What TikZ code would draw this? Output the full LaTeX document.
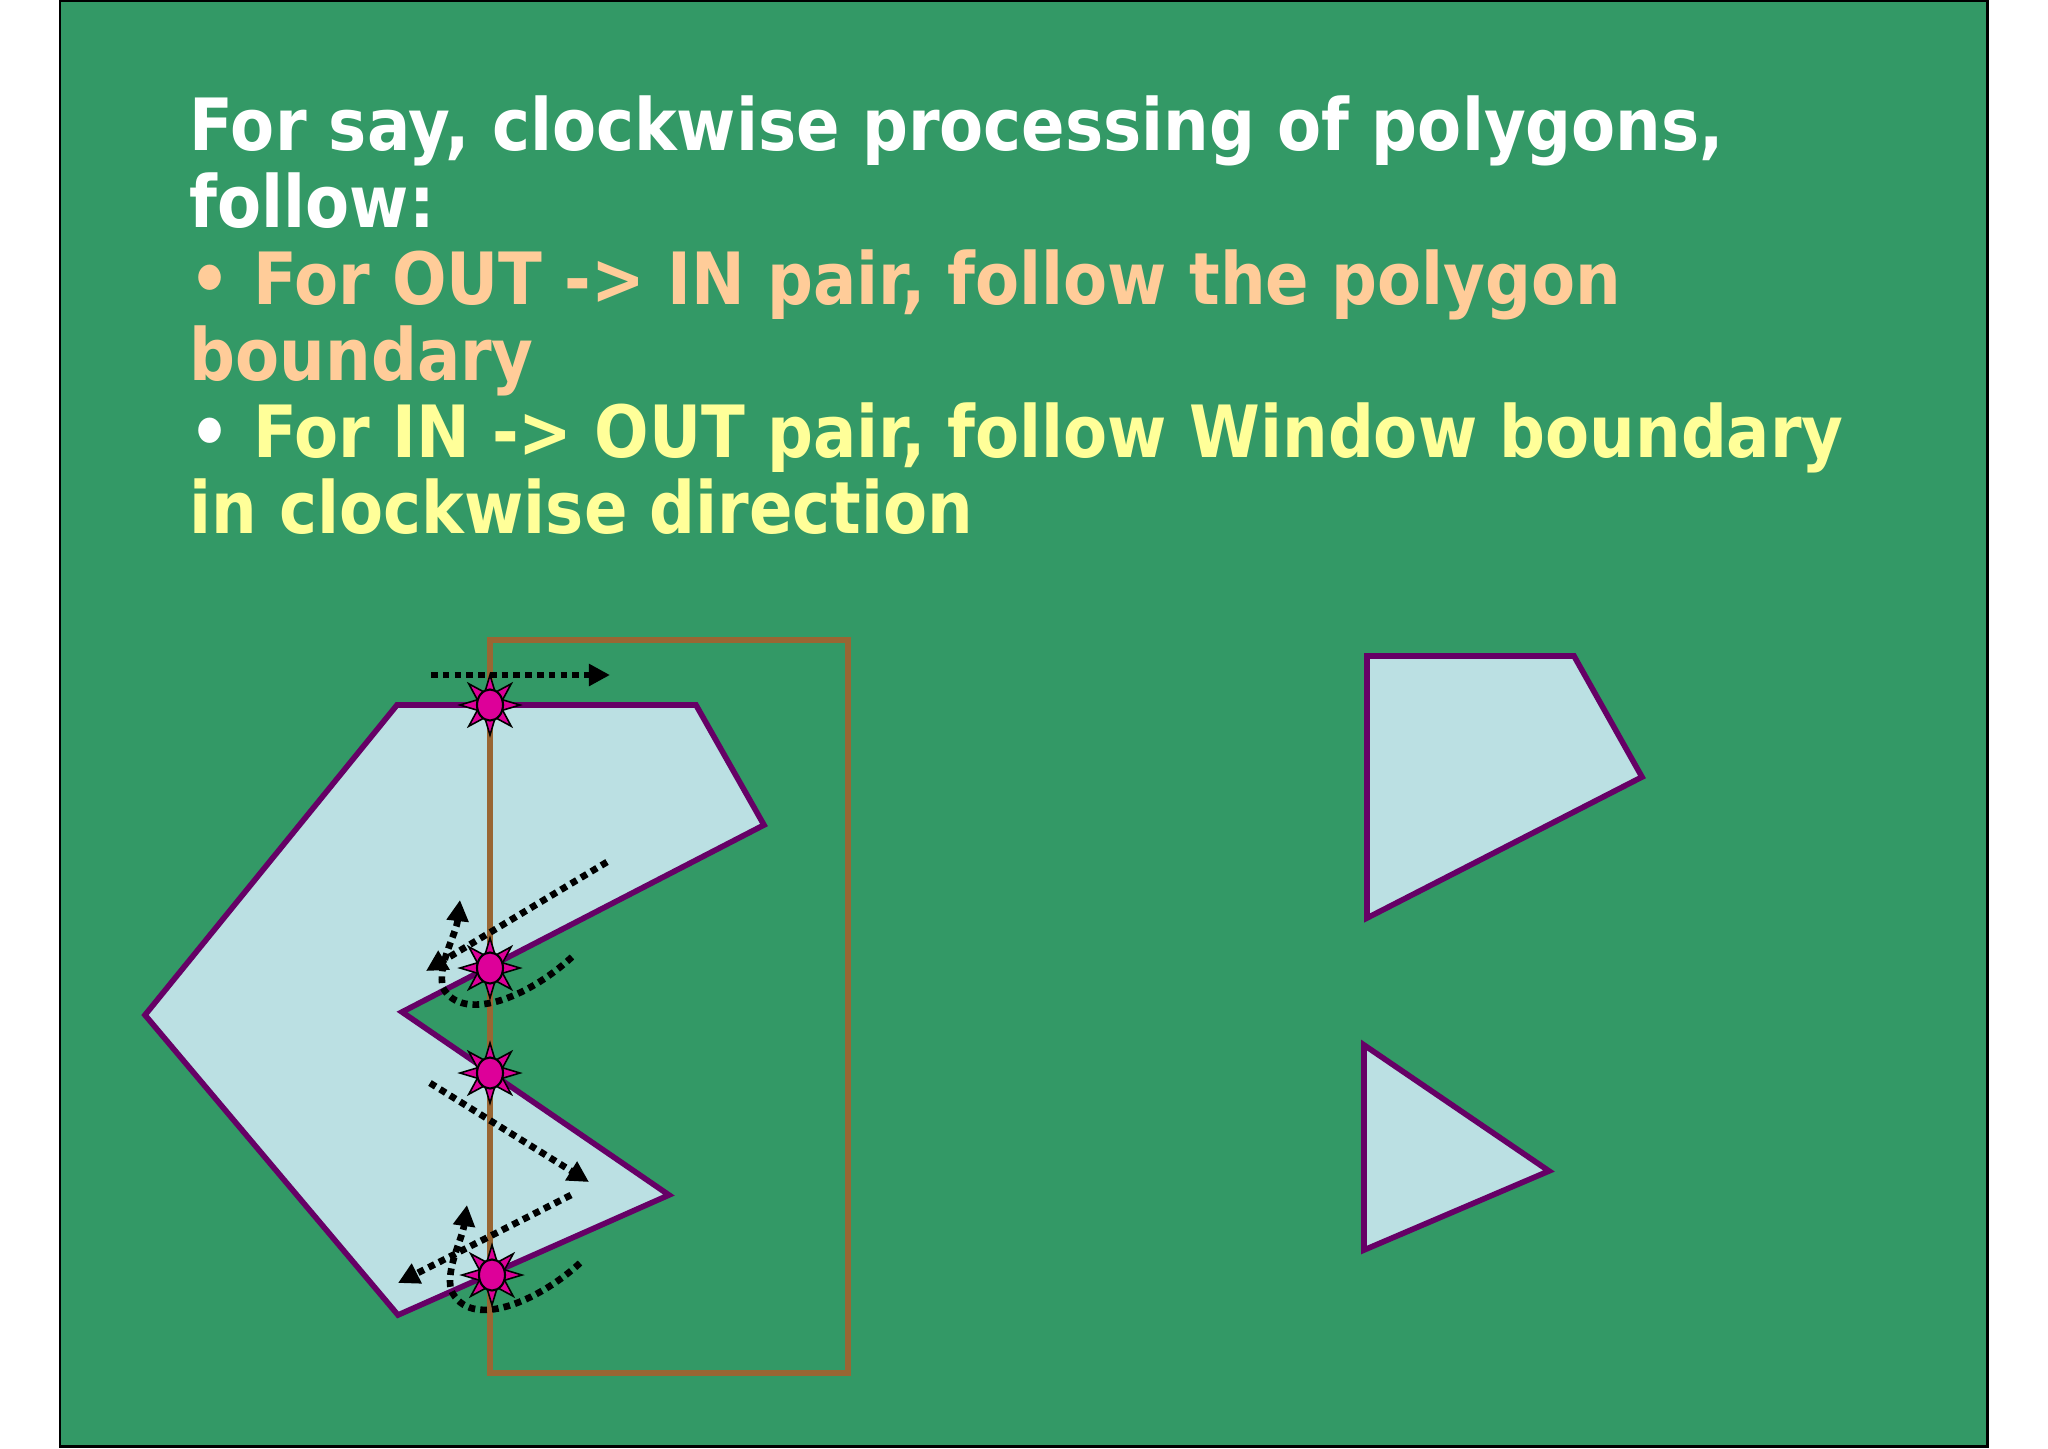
\documentclass[tikz,border=0pt]{standalone}
\usepackage{fontspec}
\setmainfont{DejaVu Sans}[FakeStretch=0.89]
\usetikzlibrary{shapes.geometric,arrows.meta,positioning}

\definecolor{board}{HTML}{339966}
\definecolor{polyfill}{HTML}{BBE0E3}
\definecolor{polyline}{HTML}{660066}
\definecolor{winline}{HTML}{996633}
\definecolor{hitcol}{HTML}{DD0099}
\definecolor{peach}{HTML}{FFCC99}
\definecolor{lemon}{HTML}{FFFF99}

\tikzset{
  poly/.style={draw=polyline, fill=polyfill, line width=1.6pt},
  window/.style={draw=winline, line width=1.9pt},
  walk/.style={line width=1.9pt, dash pattern=on 1.9pt off 1.45pt,
    -{Triangle[length=6pt,width=6pt]}},
  spike/.style={star, star points=8, star point ratio=2.2, minimum size=0.6cm,
    inner sep=0pt, fill=hitcol, draw=black, line width=0.45pt},
  hit/.style={ellipse, minimum width=0.26cm, minimum height=0.31cm, inner sep=0pt,
    fill=hitcol, draw=black, line width=0.6pt},
  textline/.style={anchor=base west, inner sep=0pt,
    font=\fontsize{20.5}{25}\selectfont\bfseries},
}

\begin{document}
\begin{tikzpicture}[x=0.01cm, y=-0.01cm]
  % page and slide
  \fill[white] (0,0) rectangle (2048,1448);
  \useasboundingbox (0,0) rectangle (2048,1448);
  \draw[fill=board, line width=0.85pt] (60,1) rectangle (1987,1446);

  % text
  \node[textline, white] (title1) at (189,150) {For say, clockwise processing of polygons,};
  \node[textline, white] (title2) at (189,227) {follow:};
  \node[textline, peach] (outin1) at (189,304) {• For OUT -> IN pair, follow the polygon};
  \node[textline, peach] (outin2) at (189,380) {boundary};
  \node[textline, lemon] (inout1) at (189,457) {{\color{white}•} For IN -> OUT pair, follow Window boundary};
  \node[textline, lemon] (inout2) at (189,533) {in clockwise direction};

  % polygons
  \draw[poly] (397,705) -- (696,705) -- (764,825) -- (402,1012) -- (669,1195)
    -- (398,1315) -- (145,1015) -- cycle;
  \draw[poly] (1367,656) -- (1574,656) -- (1642,777) -- (1367,918) -- cycle;
  \draw[poly] (1364,1045) -- (1549,1171) -- (1364,1250) -- cycle;

  % clip window
  \draw[window] (490,640) rectangle (848,1373);

  % walk directions
  \coordinate (a1s) at (431,675);  \coordinate (a1e) at (610,675);
  \coordinate (a2s) at (607,862);  \coordinate (a2e) at (426,971);
  \coordinate (a3s) at (430,1083); \coordinate (a3e) at (589,1182);
  \coordinate (a4s) at (571,1195); \coordinate (a4e) at (398,1283);
  \coordinate (c1s) at (572,957);  \coordinate (c1e) at (460,900);
  \coordinate (c2s) at (580,1263); \coordinate (c2e) at (467,1205);
  \draw[walk] (a1s) -- (a1e);
  \draw[walk] (a2s) -- (a2e);
  \draw[walk] (a3s) -- (a3e);
  \draw[walk] (a4s) -- (a4e);
  \draw[walk] (c1s) .. controls (525,1000) and (462,1022) .. (443,988)
    .. controls (437,965) and (456,935) .. (c1e);
  \draw[walk] (c2s) .. controls (540,1300) and (470,1332) .. (451,1290)
    .. controls (446,1268) and (462,1240) .. (c2e);

  % intersection points
  \foreach \x/\y [count=\i] in {490/705, 490/968, 490/1073, 492/1275} {
    \node[spike] (s\i) at (\x,\y) {};
    \node[hit] (h\i) at (s\i) {};
  }
\end{tikzpicture}
\end{document}
